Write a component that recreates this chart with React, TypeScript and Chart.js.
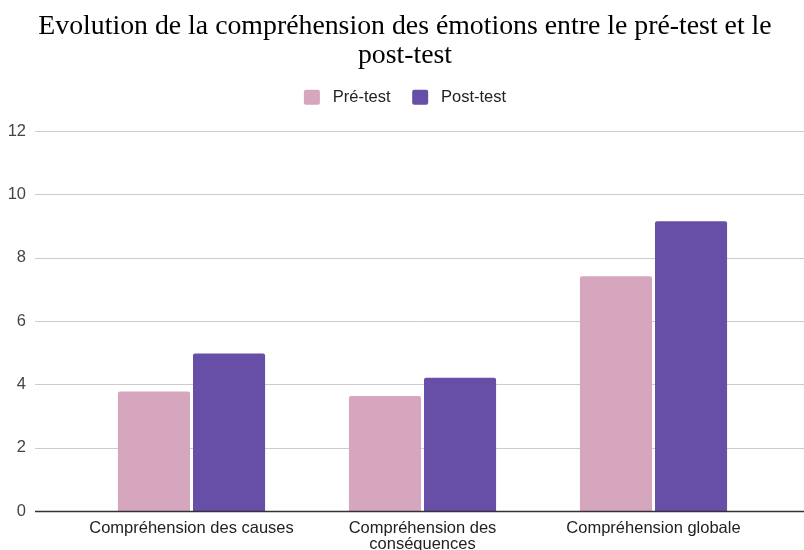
import React, { useEffect, useRef } from "react";
import { Chart, registerables, layouts } from "chart.js";

Chart.register(...registerables);

const categories: (string | string[])[] = [
  "Compréhension des causes",
  ["Compréhension des", "conséquences"],
  "Compréhension globale",
];
const preTest = [3.77, 3.63, 7.41];
const postTest = [4.97, 4.21, 9.15];
const seriesNames = ["Pré-test", "Post-test"];
const titleLines = [
  "Evolution de la compréhension des émotions entre le pré-test et le",
  "post-test",
];

const SANS = "'Liberation Sans', Arial, sans-serif";

const spacerPlugin = {
  id: "legendSpacer",
  beforeInit(chart: any) {
    const box: any = {
      position: "top",
      weight: 0,
      fullSize: true,
      options: { stackWeight: 1 },
      left: 0,
      top: 0,
      right: 0,
      bottom: 0,
      width: 0,
      height: 0,
      update(maxWidth: number) {
        this.width = maxWidth;
        this.height = 15.5;
      },
      isHorizontal() {
        return true;
      },
      draw() {},
    };
    layouts.addBox(chart, box);
  },
};

const gridPlugin = {
  id: "extendedGrid",
  beforeDatasetsDraw(chart: any) {
    const { ctx } = chart;
    const y = chart.scales.y;
    ctx.save();
    ctx.strokeStyle = "#cccccc";
    ctx.lineWidth = 1;
    y.ticks.forEach((t: any) => {
      if (t.value === 0) return;
      const py = Math.round(y.getPixelForValue(t.value)) + 0.5;
      ctx.beginPath();
      ctx.moveTo(35, py);
      ctx.lineTo(chart.width, py);
      ctx.stroke();
    });
    ctx.restore();
  },
  afterDatasetsDraw(chart: any) {
    const { ctx } = chart;
    const y = chart.scales.y;
    const py = Math.round(y.getPixelForValue(0));
    ctx.save();
    ctx.strokeStyle = "#333333";
    ctx.lineWidth = 1.5;
    ctx.beginPath();
    ctx.moveTo(35, py + 0.5);
    ctx.lineTo(chart.width, py + 0.5);
    ctx.stroke();
    ctx.restore();
  },
};

export default function App() {
  const ref = useRef<HTMLCanvasElement>(null);
  useEffect(() => {
    if (!ref.current) return;
    const chart = new Chart(ref.current, {
      type: "bar",
      data: {
        labels: categories,
        datasets: [
          {
            label: seriesNames[0],
            data: preTest,
            backgroundColor: "#d5a6bd",
            borderRadius: 2,
            borderSkipped: "bottom",
            barPercentage: 0.96,
            categoryPercentage: 0.65,
          },
          {
            label: seriesNames[1],
            data: postTest,
            backgroundColor: "#674ea7",
            borderRadius: 2,
            borderSkipped: "bottom",
            barPercentage: 0.96,
            categoryPercentage: 0.65,
          },
        ],
      },
      options: {
        responsive: true,
        maintainAspectRatio: false,
        animation: false,
        layout: { padding: 0 },
        plugins: {
          title: {
            display: true,
            text: titleLines,
            color: "#000000",
            font: { family: "'Liberation Serif', serif", size: 27.8, weight: "normal", lineHeight: 1.025 },
            padding: { top: 2, bottom: -2.5 },
          },
          legend: {
            display: true,
            position: "top",
            labels: {
              boxWidth: 16,
              boxHeight: 15,
              useBorderRadius: true,
              borderRadius: 2,
              color: "#222222",
              padding: 21.7,
              font: { family: SANS, size: 16.5 },
              generateLabels(c: any) {
                const items = Chart.defaults.plugins.legend.labels.generateLabels(c);
                items.forEach((it: any) => {
                  it.text = " " + it.text;
                  it.lineWidth = 0;
                  it.strokeStyle = "rgba(0,0,0,0)";
                });
                return items;
              },
            },
          },
          tooltip: { enabled: false },
        },
        scales: {
          x: {
            grid: { display: false, drawTicks: false },
            border: { display: false },
            afterFit(scale: any) {
              scale.height = 39;
            },
            ticks: {
              color: "#222222",
              padding: 9,
              maxRotation: 0,
              autoSkip: false,
              font: { family: SANS, size: 16.5, lineHeight: 1.0 },
            },
          },
          y: {
            min: 0,
            max: 12,
            grid: { display: false, drawTicks: false },
            border: { display: false },
            afterFit(scale: any) {
              scale.width = 76;
              scale.paddingTop = 131;
              scale.paddingBottom = 0;
            },
            ticks: {
              stepSize: 2,
              color: "#444444",
              padding: 50,
              font: { family: SANS, size: 16.5 },
            },
          },
          yRight: {
            type: "linear",
            position: "right",
            display: true,
            min: 0,
            max: 1,
            grid: { display: false, drawTicks: false },
            border: { display: false },
            ticks: { display: false },
            afterFit(scale: any) {
              scale.width = 41;
              scale.paddingTop = 0;
              scale.paddingBottom = 0;
            },
          },
        },
      },
      plugins: [spacerPlugin, gridPlugin],
    });
    return () => chart.destroy();
  }, []);
  return (
    <div style={{ position: "fixed", left: 0, top: 0, width: 804, height: 550, overflow: "hidden", background: "#fff" }}>
      <div style={{ position: "relative", width: 810, height: 550 }}>
        <canvas ref={ref} />
      </div>
    </div>
  );
}
